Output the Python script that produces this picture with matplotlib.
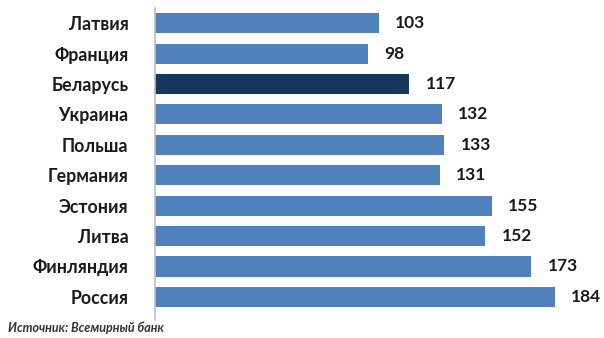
import matplotlib
matplotlib.use("Agg")
import matplotlib.pyplot as plt

# ==========================
# DATA
# ==========================
countries = ["Латвия", "Франция", "Беларусь", "Украина", "Польша",
             "Германия", "Эстония", "Литва", "Финляндия", "Россия"]
values = [103, 98, 117, 132, 133, 131, 155, 152, 173, 184]
highlight = "Беларусь"
source = "Источник: Всемирный банк"

BAR = "#4F81BD"
DARK = "#17365D"
TEXT = "#1a1a1a"

plt.rcParams["font.family"] = ["Lato", "DejaVu Sans"]

fig = plt.figure(figsize=(6.04, 3.38), dpi=100)
ax = fig.add_axes([155 / 604, 18 / 338, 449 / 604, 312 / 338])

colors = [DARK if c == highlight else BAR for c in countries]
ypos = range(len(countries))
ax.barh(ypos, values, height=0.66, color=colors)

for y, v in zip(ypos, values):
    ax.text(v + 7.5, y, str(v), va="center", ha="left",
            fontsize=12.5, fontweight="bold", color=TEXT)

ax.set_xlim(0, 206.5)
ax.set_ylim(9.76, -0.5)
ax.set_yticks(list(ypos))
ax.set_yticklabels(countries, fontsize=12.8, fontweight="bold", color=TEXT)
ax.tick_params(axis="y", length=0, pad=19)
ax.set_xticks([])

for s in ["top", "right", "bottom"]:
    ax.spines[s].set_visible(False)
ax.spines["left"].set_color("#c0c0c0")
ax.spines["left"].set_linewidth(1.2)

fig.text(8 / 604, 1 - 328 / 338, source, fontsize=9, fontstyle="italic",
         fontweight="bold", color="#333333", va="center", ha="left")

fig.savefig("out.png", dpi=100)
